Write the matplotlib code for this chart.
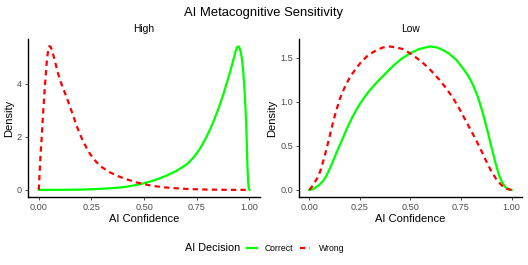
import matplotlib
matplotlib.use("Agg")
import matplotlib.pyplot as plt
from matplotlib.lines import Line2D

plt.rcParams['font.family'] = ['Liberation Sans', 'DejaVu Sans']

# ---- data ----
high_wrong_x = [0.0, 0.004, 0.008, 0.013, 0.018, 0.022, 0.027, 0.033, 0.039, 0.045, 0.05,
                0.055, 0.06, 0.065, 0.075, 0.089, 0.1, 0.114, 0.129, 0.145, 0.165, 0.185,
                0.205, 0.225, 0.245, 0.273, 0.3, 0.337, 0.375, 0.416, 0.464, 0.52, 0.56,
                0.6, 0.65, 0.7, 0.75, 0.8, 0.85, 0.9, 1.0]
high_wrong_y = [0.0, 0.7, 1.3, 1.9, 2.6, 3.1, 3.7, 4.35, 4.95, 5.3, 5.42,
                5.4, 5.32, 5.2, 4.9, 4.45, 4.15, 3.85, 3.55, 3.2, 2.75, 2.3,
                1.92, 1.6, 1.33, 1.05, 0.85, 0.66, 0.52, 0.40, 0.28, 0.18, 0.13,
                0.09, 0.06, 0.035, 0.02, 0.01, 0.005, 0.0, 0.0]

high_correct_x = [0.0, 0.1, 0.2, 0.25, 0.3, 0.35, 0.4, 0.44, 0.48, 0.527, 0.57, 0.607,
                  0.65, 0.702, 0.735, 0.765, 0.795, 0.821, 0.85, 0.876, 0.895, 0.91,
                  0.925, 0.935, 0.943, 0.95, 0.957, 0.964, 0.97, 0.976, 0.98, 0.984,
                  0.987, 0.99, 0.993, 0.996, 1.0]
high_correct_y = [0.0, 0.0, 0.01, 0.02, 0.04, 0.065, 0.1, 0.15, 0.21, 0.31, 0.42, 0.54,
                  0.7, 0.96, 1.22, 1.55, 1.98, 2.42, 3.0, 3.6, 4.1, 4.5,
                  4.95, 5.25, 5.4, 5.4, 5.25, 4.96, 4.5, 3.84, 3.25, 2.59,
                  1.9, 1.0, 0.4, 0.1, 0.0]

low_wrong_x = [0.0, 0.02, 0.04, 0.053, 0.07, 0.086, 0.1, 0.118, 0.135, 0.151, 0.175, 0.2,
               0.23, 0.258, 0.29, 0.332, 0.365, 0.398, 0.43, 0.463, 0.5, 0.554, 0.6,
               0.644, 0.675, 0.709, 0.74, 0.775, 0.81, 0.841, 0.87, 0.898, 0.925, 0.95,
               0.975, 1.0]
low_wrong_y = [0.0, 0.06, 0.14, 0.21, 0.34, 0.48, 0.61, 0.78, 0.92, 1.04, 1.17, 1.28,
               1.38, 1.46, 1.53, 1.59, 1.62, 1.63, 1.62, 1.60, 1.55, 1.46, 1.36,
               1.25, 1.16, 1.05, 0.93, 0.78, 0.63, 0.49, 0.35, 0.22, 0.12, 0.055,
               0.015, 0.0]

low_correct_x = [0.0, 0.02, 0.05, 0.07, 0.086, 0.11, 0.135, 0.16, 0.184, 0.215, 0.25, 0.29,
                 0.332, 0.375, 0.414, 0.455, 0.496, 0.54, 0.595, 0.63, 0.66, 0.69, 0.726,
                 0.76, 0.785, 0.808, 0.833, 0.857, 0.878, 0.898, 0.92, 0.939, 0.955,
                 0.97, 0.985, 1.0]
low_correct_y = [0.0, 0.01, 0.06, 0.11, 0.17, 0.29, 0.43, 0.56, 0.69, 0.84, 0.98, 1.11,
                 1.22, 1.32, 1.41, 1.49, 1.55, 1.6, 1.63, 1.62, 1.59, 1.55, 1.48,
                 1.38, 1.3, 1.2, 1.06, 0.88, 0.7, 0.51, 0.31, 0.16, 0.08,
                 0.03, 0.005, 0.0]

panels = ["High", "Low"]
x_ticks = [0.0, 0.25, 0.5, 0.75, 1.0]
x_ticklabels = ["0.00", "0.25", "0.50", "0.75", "1.00"]
high_yticks = [0, 2, 4]
high_yticklabels = ["0", "2", "4"]
low_yticks = [0.0, 0.5, 1.0, 1.5]
low_yticklabels = ["0.0", "0.5", "1.0", "1.5"]
legend_labels = ["Correct", "Wrong"]

GREEN = "#00FF00"
RED = "#FF0000"
TICKGREY = "#4D4D4D"

fig = plt.figure(figsize=(5.28, 2.65), dpi=100)
ax1 = fig.add_axes([0.0536, 0.2566, 0.4388, 0.5944])
ax2 = fig.add_axes([0.5669, 0.2566, 0.4211, 0.5944])

lw = 1.6
dash = (0, (2.4, 1.9))

def style(ax, title, yticks, yticklabels, ylim):
    for s in ["top", "right"]:
        ax.spines[s].set_visible(False)
    for s in ["left", "bottom"]:
        ax.spines[s].set_linewidth(1.0)
        ax.spines[s].set_color("black")
    ax.set_xlim(-0.05, 1.05)
    ax.set_ylim(*ylim)
    ax.set_xticks(x_ticks)
    ax.set_xticklabels(x_ticklabels)
    ax.set_yticks(yticks)
    ax.set_yticklabels(yticklabels)
    ax.tick_params(axis="both", labelsize=6.6, labelcolor=TICKGREY, color=TICKGREY,
                   length=2.5, width=0.7, pad=2)
    ax.set_xlabel("AI Confidence", fontsize=8, labelpad=1)
    ax.set_ylabel("Density", fontsize=8, labelpad=2)
    ax.set_title(title, fontsize=7.4, pad=5.5)

ax1.plot(high_correct_x, high_correct_y, color=GREEN, lw=lw, solid_joinstyle="round")
ax1.plot(high_wrong_x, high_wrong_y, color=RED, lw=lw, linestyle=dash)
style(ax1, panels[0], high_yticks, high_yticklabels, (-0.27, 5.67))

ax2.plot(low_correct_x, low_correct_y, color=GREEN, lw=lw, solid_joinstyle="round")
ax2.plot(low_wrong_x, low_wrong_y, color=RED, lw=lw, linestyle=dash)
style(ax2, panels[1], low_yticks, low_yticklabels, (-0.08, 1.71))

fig.suptitle("AI Metacognitive Sensitivity", fontsize=9.4, y=0.975)

handles = [Line2D([], [], color=GREEN, lw=lw),
           Line2D([], [], color=RED, lw=lw, linestyle=dash)]
fig.text(0.35, 0.063, "AI Decision", fontsize=7.8, ha="left", va="center")
fig.legend(handles, legend_labels, loc="center left", bbox_to_anchor=(0.468, 0.063),
           ncol=2, frameon=False, fontsize=6.2, handlelength=1.16, handletextpad=0.93,
           columnspacing=0.8, borderpad=0, borderaxespad=0)

fig.savefig("out.png", dpi=100)
